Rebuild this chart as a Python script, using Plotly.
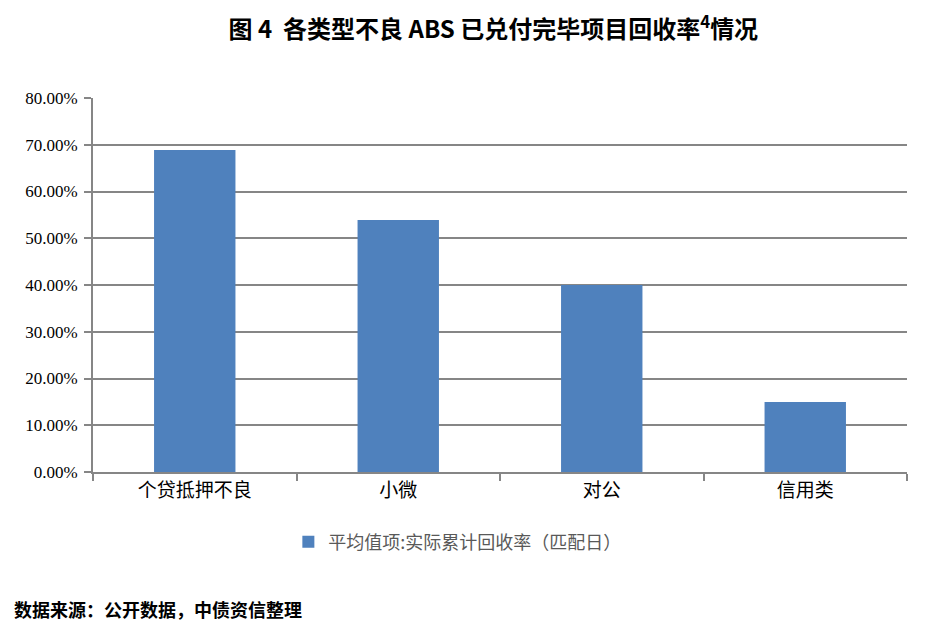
"""
图4 各类型不良ABS已兑付完毕项目回收率情况 - bar chart
"""

import plotly.graph_objects as go

categories = ["个贷抵押不良", "小微", "对公", "信用类"]
recovery_rate = [0.689, 0.539, 0.400, 0.150]
y_ticks = [0.0, 0.1, 0.2, 0.3, 0.4, 0.5, 0.6, 0.7, 0.8]

series_name = "平均值项:实际累计回收率（匹配日）"
title_text = "<b>图 4  各类型不良 ABS 已兑付完毕项目回收率<sup>4</sup>情况</b>"
source_text = "<b>数据来源：公开数据，中债资信整理</b>"

bar_color = "#4F81BD"
grid_color = "#868686"
cjk_font = "Noto Sans CJK SC"
serif_font = "Times New Roman, Liberation Serif, serif"

# the page body adds an 8px offset, margins account for it
fig = go.Figure()
fig.add_bar(
    x=categories,
    y=recovery_rate,
    name=series_name,
    marker={"color": bar_color, "line": {"width": 0}},
    showlegend=True,
)

fig.update_layout(
    width=928,
    height=639,
    margin={"l": 85, "r": 29, "t": 90, "b": 175},
    paper_bgcolor="white",
    plot_bgcolor="white",
    bargap=0.6,
    title={
        "text": title_text,
        "x": 0.523,
        "xanchor": "center",
        "y": 0.966,
        "yanchor": "middle",
        "font": {"family": cjk_font, "size": 24, "color": "#000"},
    },
    legend={
        "x": 0.24,
        "y": -0.187,
        "xanchor": "left",
        "yanchor": "middle",
        "orientation": "h",
        "font": {"family": cjk_font, "size": 18, "color": "#595959"},
        "itemwidth": 30,
    },
)

fig.update_yaxes(
    range=[0, 0.8],
    tickvals=y_ticks,
    tickformat=".2%",
    tickfont={"family": serif_font, "size": 17, "color": "#000"},
    showgrid=True,
    gridcolor=grid_color,
    gridwidth=2,
    zeroline=False,
    showline=True,
    linecolor=grid_color,
    linewidth=2,
    ticks="outside",
    ticklen=7,
    tickwidth=2,
    tickcolor=grid_color,
    ticklabelstandoff=3,
)
fig.update_xaxes(
    tickfont={"family": cjk_font, "size": 19, "color": "#000"},
    showline=True,
    linecolor=grid_color,
    linewidth=2,
    ticks="outside",
    tickson="boundaries",
    ticklen=7,
    tickwidth=2,
    tickcolor=grid_color,
    showgrid=False,
)

fig.add_annotation(
    text=source_text,
    xref="paper",
    yref="paper",
    x=-0.1,
    y=-0.366,
    xanchor="left",
    yanchor="middle",
    showarrow=False,
    font={"family": cjk_font, "size": 18, "color": "#000"},
)

fig.write_html("out.html")
